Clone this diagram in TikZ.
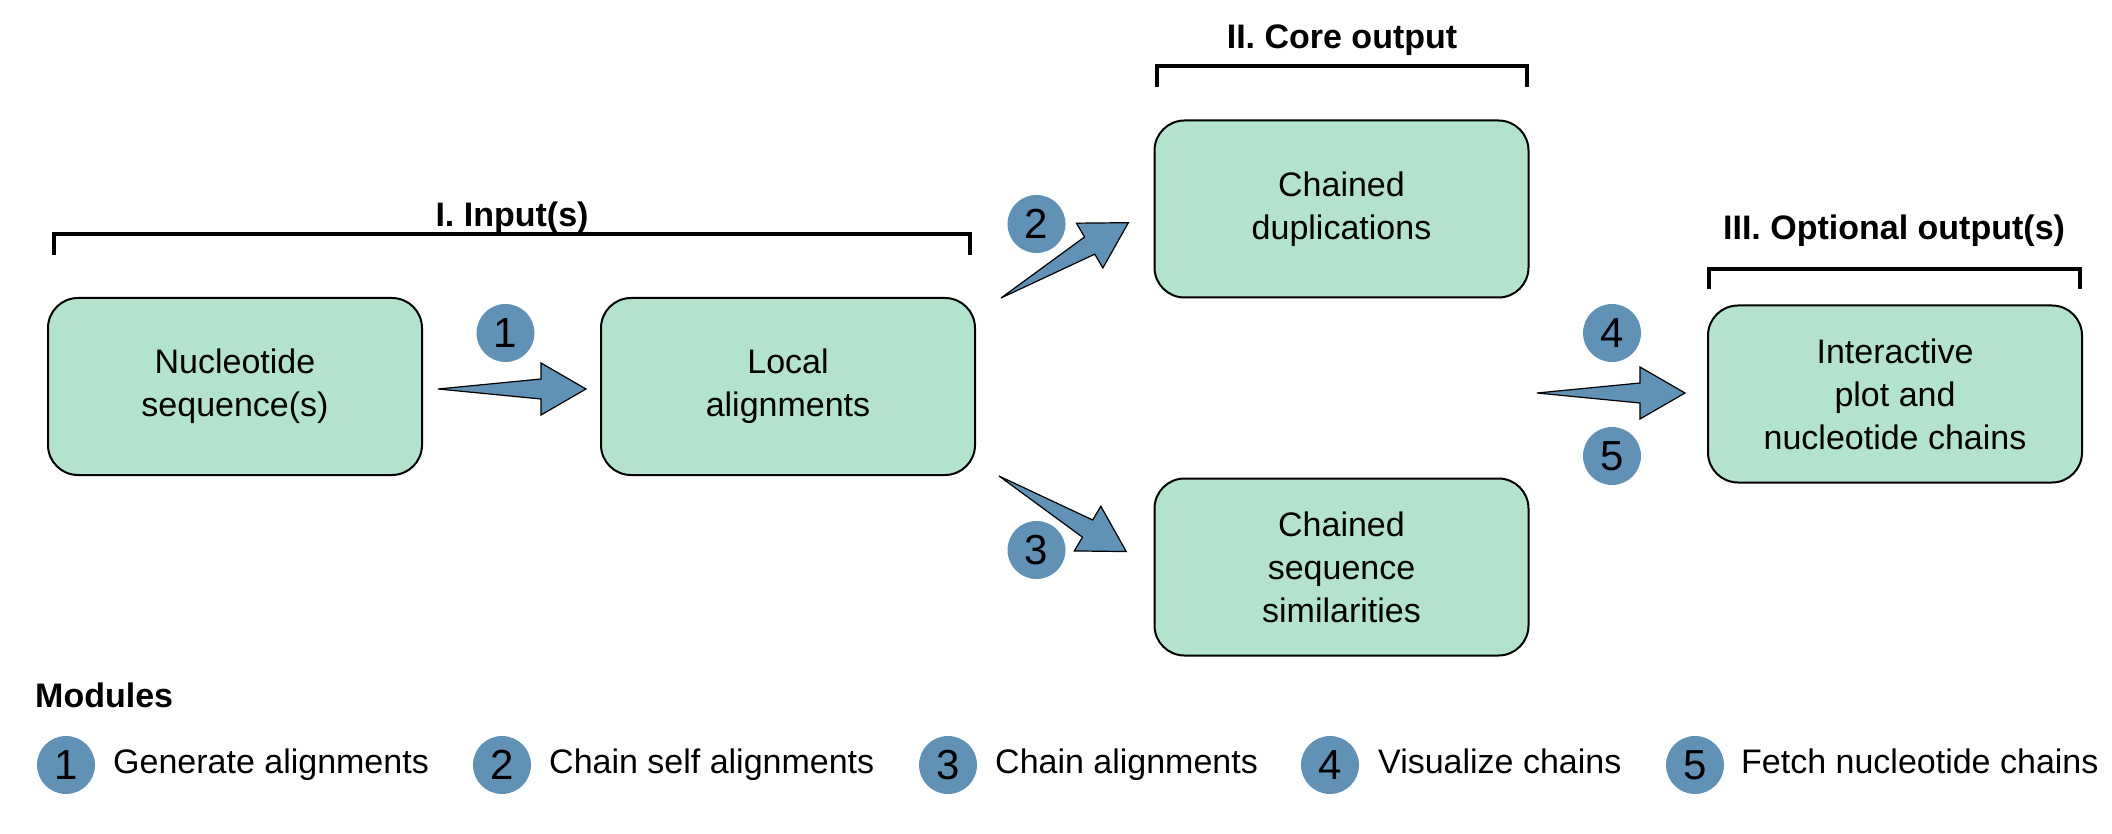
\documentclass[tikz,border=0pt]{standalone}
\usepackage{fontspec}
\setmainfont{Liberation Sans}
\definecolor{boxfill}{HTML}{B3E2CD}
\definecolor{circ}{RGB}{97,145,181}
\begin{document}
\begin{tikzpicture}[x=1pt,y=-1pt,
  box/.style={draw=black, line width=2pt, fill=boxfill, rounded corners=30pt,
    minimum width=374pt, minimum height=177pt, align=center,
    font=\fontsize{34}{43}\selectfont, inner sep=0pt},
  num/.style={circle, fill=circ, minimum size=58pt, inner sep=0pt,
    font=\fontsize{42}{42}\selectfont},
  hdr/.style={font=\bfseries\fontsize{34}{40}\selectfont, anchor=base, inner sep=0pt},
  legtext/.style={font=\fontsize{34}{40}\selectfont, anchor=base west, inner sep=0pt},
  brk/.style={line width=3.5pt, line join=miter},
  blockarrow/.pic={\draw[fill=circ, line width=1.2pt, line join=miter]
    (0,0) -- (103,-10) -- (103,-26) -- (148,0) -- (103,26) -- (103,10) -- cycle;}
]
\useasboundingbox (0,0) rectangle (2112,834);

% boxes
\node[box] (A) at (235,386.5) {Nucleotide\\sequence(s)};
\node[box] (B) at (788,386.5) {Local\\alignments};
\node[box] (C) at (1341.5,209) {Chained\\duplications};
\node[box] (D) at (1341.5,567) {Chained\\sequence\\similarities};
\node[box] (E) at (1895,394) {Interactive\\plot and\\nucleotide chains};

% brackets and headers
\draw[brk] (54,255) -- (54,234) -- (970,234) -- (970,255);
\node[hdr] (h1) at (512,227) {I. Input(s)};
\draw[brk] (1157,87) -- (1157,66) -- (1527,66) -- (1527,87);
\node[hdr] (h2) at (1342,49) {II. Core output};
\draw[brk] (1709,289) -- (1709,269) -- (2080,269) -- (2080,289);
\node[hdr] (h3) at (1894,240) {III. Optional output(s)};

% block arrows
\coordinate (t1) at (438,389);
\coordinate (t2) at (1001,298);
\coordinate (t3) at (999,476);
\coordinate (t4) at (1537,393);
\pic at (t1) {blockarrow};
\pic[rotate=30.6] at (t2) {blockarrow};
\pic[rotate=-30.7] at (t3) {blockarrow};
\pic at (t4) {blockarrow};

% numbered circles
\node[num] (n1) at (505.5,333) {1};
\node[num] (n2) at (1036.5,224) {2};
\node[num] (n3) at (1036.5,550) {3};
\node[num] (n4) at (1612,333) {4};
\node[num] (n5) at (1612,456) {5};

% legend
\node[font=\bfseries\fontsize{34}{40}\selectfont, anchor=base west, inner sep=0pt] (mod) at (35,707) {Modules};
\node[num] (l1) at (66,765) {1};
\node[legtext] (lt1) at (113,773) {Generate alignments};
\node[num] (l2) at (502,765) {2};
\node[legtext] (lt2) at (549,773) {Chain self alignments};
\node[num] (l3) at (948,765) {3};
\node[legtext] (lt3) at (995,773) {Chain alignments};
\node[num] (l4) at (1330,765) {4};
\node[legtext] (lt4) at (1378,773) {Visualize chains};
\node[num] (l5) at (1695,765) {5};
\node[legtext] (lt5) at (1741,773) {Fetch nucleotide chains};
\end{tikzpicture}
\end{document}
